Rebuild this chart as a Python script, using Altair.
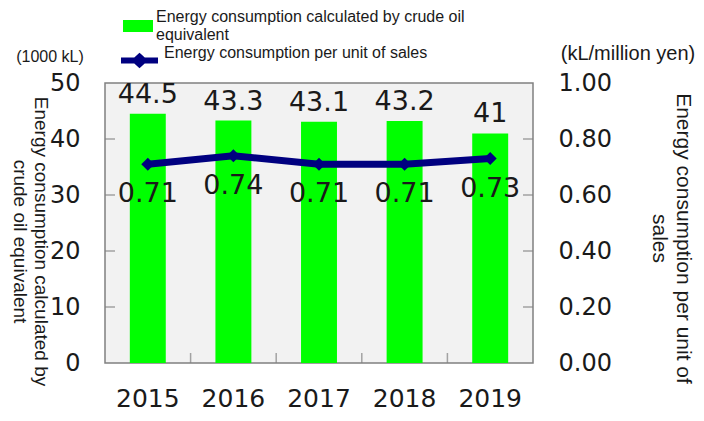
import altair as alt
import pandas as pd

# ---------------- data ----------------
years = ["2015", "2016", "2017", "2018", "2019"]
consumption = [44.5, 43.3, 43.1, 43.2, 41.0]          # 1000 kL
intensity = [0.71, 0.74, 0.71, 0.71, 0.73]            # kL / million yen
left_ticks = [0, 10, 20, 30, 40, 50]
right_ticks = [0.0, 0.2, 0.4, 0.6, 0.8, 1.0]
inner_ticks = [10, 20, 30, 40]
boundary_years = ["2016", "2017", "2018", "2019"]
bar_series = "Energy consumption calculated by crude oil equivalent"
line_series = "Energy consumption per unit of sales"
left_title = ["Energy consumption calculated by", "crude oil equivalent"]
right_title = ["Energy consumption per unit of", "sales"]
left_unit = "(1000 kL)"
right_unit = "(kL/million yen)"

# ---------------- style ----------------
W, H = 428, 280
GREEN = "#00ff00"
NAVY = "#000080"
FRAME = "#808080"
TXT = "#1a1a1a"
NUMFONT = "DejaVu Sans"
SANS = "Liberation Sans"

df = pd.DataFrame({
    "year": years,
    "consumption": consumption,
    "intensity": intensity,
    "bar_series": [bar_series] * len(years),
    "line_series": [line_series] * len(years),
})
tick_df = pd.DataFrame({"v": inner_ticks})
bound_df = pd.DataFrame({"year": boundary_years})

base = alt.Chart(df)

x_enc = alt.X(
    "year:N",
    sort=years,
    scale=alt.Scale(paddingInner=0, paddingOuter=0),
    axis=alt.Axis(
        title=None, labelAngle=0, labelFont=NUMFONT, labelFontSize=25,
        labelColor=TXT, labelPadding=43, labelBaseline="alphabetic",
        ticks=False, tickSize=0, domain=False, grid=False,
    ),
)

bars = base.mark_bar(width=alt.RelativeBandSize(0.42)).encode(
    x=x_enc,
    y=alt.Y(
        "consumption:Q",
        scale=alt.Scale(domain=[0, 50]),
        axis=alt.Axis(
            values=left_ticks, title=left_title, titleAngle=90,
            titleX=-65, titleY=158, titleAlign="center", titleBaseline="middle",
            titleFont=SANS, titleFontSize=19, titleFontWeight="normal",
            titleColor=TXT, titleLineHeight=21,
            labelFont=NUMFONT, labelFontSize=24, labelColor=TXT,
            labelPadding=25, labelFlush=False, labelOverlap=False,
            ticks=False, tickSize=0, domain=False, grid=False,
        ),
    ),
    color=alt.Color(
        "bar_series:N",
        scale=alt.Scale(range=[GREEN]),
        legend=alt.Legend(
            orient="none", legendX=18, legendY=-72, title=None, padding=0,
            symbolType="M-1,-0.4H1V0.4H-1Z", symbolSize=900,
            symbolStrokeWidth=0, labelOffset=3, labelBaseline="line-bottom",
            labelFont=SANS, labelFontSize=16, labelColor=TXT, labelLimit=600,
            labelExpr="split(replace(datum.label, ' equivalent', '|equivalent'), '|')",
        ),
    ),
)

bar_text = base.mark_text(
    font=NUMFONT, fontSize=27, color=TXT, baseline="middle", dy=-19
).encode(
    x=alt.X("year:N", sort=years),
    y="consumption:Q",
    text=alt.Text("consumption:Q"),
)

left_ticks_layer = alt.Chart(tick_df).mark_tick(
    orient="horizontal", size=20, thickness=1.5, color=FRAME, clip=True
).encode(y="v:Q", x=alt.value(0))

right_ticks_layer = alt.Chart(tick_df).mark_tick(
    orient="horizontal", size=20, thickness=1.5, color=FRAME, clip=True
).encode(y="v:Q", x=alt.value(W))

bottom_ticks_layer = alt.Chart(bound_df).mark_tick(
    orient="vertical", size=20, thickness=1.5, color=FRAME, clip=True
).encode(x=alt.X("year:N", sort=years, bandPosition=0), y=alt.datum(0))

unit_left = alt.Chart(pd.DataFrame({"t": [left_unit]})).mark_text(
    font=SANS, fontSize=16, color=TXT, align="center", baseline="middle"
).encode(text="t:N", x=alt.value(-55), y=alt.value(-26))

unit_right = alt.Chart(pd.DataFrame({"t": [right_unit]})).mark_text(
    font=SANS, fontSize=20, color=TXT, align="center", baseline="middle"
).encode(text="t:N", x=alt.value(W + 95), y=alt.value(-29))

left_layer = alt.layer(
    bars, bar_text, left_ticks_layer, right_ticks_layer, bottom_ticks_layer,
    unit_left, unit_right,
)

y_right = alt.Y(
    "intensity:Q",
    scale=alt.Scale(domain=[0, 1]),
    axis=alt.Axis(
        orient="right", values=right_ticks, format=".2f", title=right_title,
        titleAngle=90, titleX=149, titleY=155, titleAlign="center",
        titleBaseline="middle", titleFont=SANS, titleFontSize=21,
        titleFontWeight="normal", titleColor=TXT, titleLineHeight=24,
        labelFont=NUMFONT, labelFontSize=24, labelColor=TXT, labelPadding=25,
        labelFlush=False, labelOverlap=False,
        ticks=False, tickSize=0, domain=False, grid=False,
    ),
)

line = base.mark_line(strokeWidth=7).encode(
    x=alt.X("year:N", sort=years),
    y=y_right,
    stroke=alt.Stroke(
        "line_series:N",
        scale=alt.Scale(range=[NAVY]),
        legend=alt.Legend(
            orient="none", legendX=13, legendY=-44, title=None, padding=0,
            symbolType="M-1,0H1M0,-0.2L0.22,0L0,0.2L-0.22,0Z",
            symbolSize=1369, symbolStrokeWidth=6, symbolFillColor=NAVY,
            symbolStrokeColor=NAVY, labelOffset=3, labelBaseline="bottom",
            labelFont=SANS, labelFontSize=16, labelColor=TXT, labelLimit=600,
        ),
    ),
)

points = base.mark_point(shape="diamond", filled=True, size=170, color=NAVY, opacity=1).encode(
    x=alt.X("year:N", sort=years),
    y="intensity:Q",
)

line_text = base.mark_text(
    font=NUMFONT, fontSize=27, color=TXT, baseline="middle", dy=30
).encode(
    x=alt.X("year:N", sort=years),
    y="intensity:Q",
    text=alt.Text("intensity:Q", format=".2f"),
)

right_layer = alt.layer(line, points, line_text)

chart = (
    alt.layer(left_layer, right_layer)
    .resolve_scale(y="independent")
    .properties(
        width=W, height=H,
        autosize=alt.AutoSizeParams(type="none"),
        padding={"left": 97, "top": 75, "right": 163, "bottom": 50},
    )
    .configure_view(stroke=FRAME, strokeWidth=1.5, fill="#f2f2f2")
)

chart.save("out.html", embed_options={"renderer": "svg", "actions": False})
